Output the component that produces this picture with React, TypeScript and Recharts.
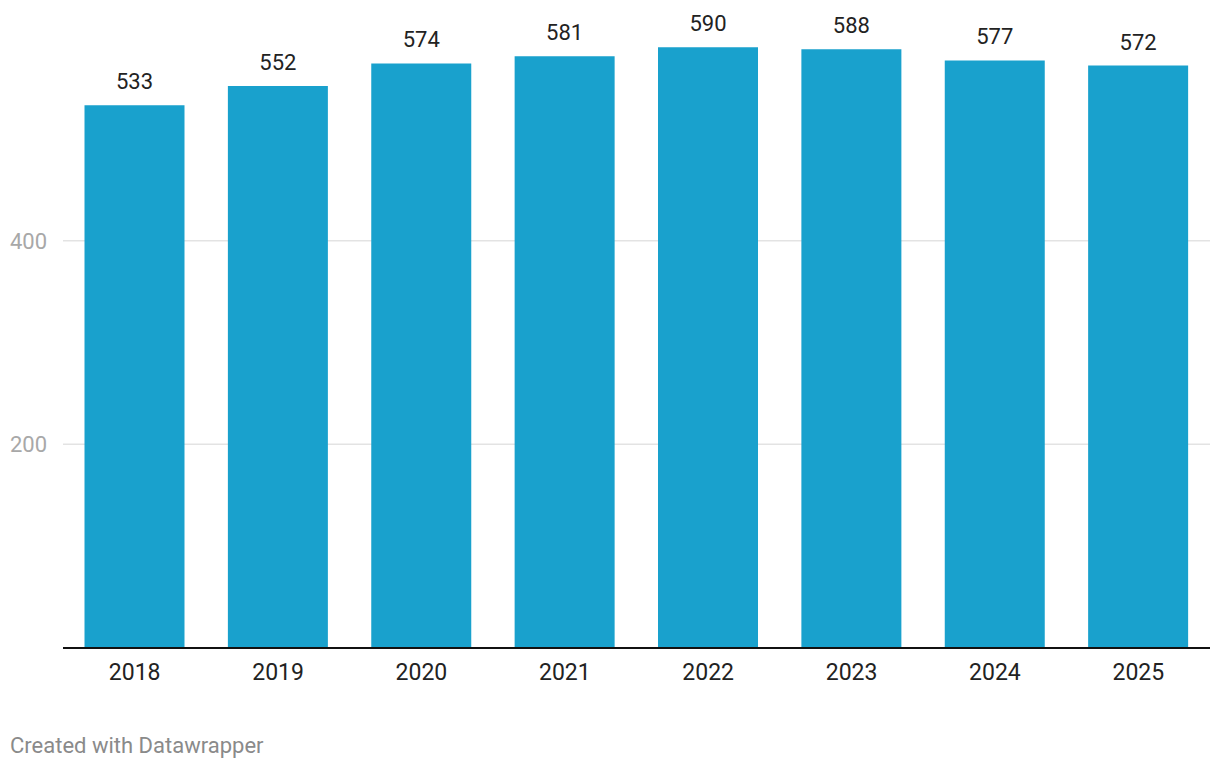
import { BarChart, Bar, XAxis, YAxis, CartesianGrid, LabelList } from "recharts";

const years = ["2018", "2019", "2020", "2021", "2022", "2023", "2024", "2025"];
const values = [533, 552, 574, 581, 590, 588, 577, 572];
const yTicks = [200, 400];

const data = years.map((year, i) => ({ year, value: values[i] }));

const FONT = "Roboto, sans-serif";

const YTick = ({ y, payload }: any) => (
  <text x={10} y={y} dy={8} textAnchor="start" fill="#a8a8a8" fontSize={22} fontFamily={FONT}>
    {payload.value}
  </text>
);

export default function App() {
  return (
    <div style={{ position: "absolute", left: 0, top: 0, width: 1220, height: 768, background: "#fff", fontFamily: FONT }}>
      <BarChart
        width={1220}
        height={700}
        data={data}
        margin={{ top: 37, right: 10, left: 0, bottom: 0 }}
        barCategoryGap="15%"
      >
        <CartesianGrid
          horizontal
          vertical={false}
          horizontalValues={yTicks}
          stroke="#e3e3e3"
          strokeWidth={1.5}
        />
        <YAxis
          width={63}
          domain={[0, 600]}
          ticks={yTicks}
          axisLine={false}
          tickLine={false}
          tick={<YTick />}
        />
        <XAxis
          dataKey="year"
          height={52}
          axisLine={{ stroke: "#111", strokeWidth: 2 }}
          tickLine={false}
          tick={{ fill: "#222", fontSize: 23, fontFamily: FONT }}
          tickMargin={10}
        />
        <Bar dataKey="value" fill="#19a1cd" isAnimationActive={false}>
          <LabelList dataKey="value" position="top" offset={16} fill="#222" fontSize={22} fontFamily={FONT} />
        </Bar>
      </BarChart>
      <div style={{ position: "absolute", left: 10, top: 733, fontSize: 22, color: "#8a8a8a", fontFamily: FONT }}>
        Created with Datawrapper
      </div>
    </div>
  );
}
